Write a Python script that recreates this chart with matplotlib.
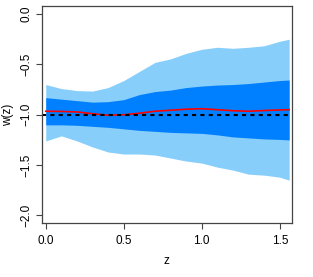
import matplotlib
matplotlib.use("Agg")
import matplotlib.pyplot as plt

# redshift grid and reconstructed w(z) bands
z = [0.0, 0.1, 0.2, 0.3, 0.4, 0.5, 0.6, 0.7, 0.8, 0.9, 1.0, 1.1, 1.2, 1.3, 1.4, 1.5, 1.56]
outer_hi = [-0.70, -0.74, -0.76, -0.765, -0.73, -0.66, -0.57, -0.48, -0.445, -0.39,
            -0.35, -0.33, -0.34, -0.33, -0.315, -0.27, -0.25]
outer_lo = [-1.26, -1.21, -1.26, -1.32, -1.37, -1.39, -1.39, -1.40, -1.43, -1.46,
            -1.48, -1.52, -1.55, -1.59, -1.60, -1.62, -1.65]
inner_hi = [-0.83, -0.845, -0.86, -0.875, -0.87, -0.85, -0.80, -0.77, -0.755, -0.73,
            -0.715, -0.705, -0.70, -0.69, -0.675, -0.66, -0.655]
inner_lo = [-1.10, -1.10, -1.105, -1.115, -1.125, -1.14, -1.155, -1.165, -1.175, -1.18,
            -1.185, -1.20, -1.22, -1.23, -1.24, -1.245, -1.25]
w_mean = [-0.965, -0.967, -0.972, -0.99, -1.005, -1.0, -0.985, -0.965, -0.955, -0.945,
          -0.94, -0.95, -0.96, -0.965, -0.958, -0.952, -0.95]
w_true = -1.0

xticks = [0.0, 0.5, 1.0, 1.5]
yticks = [0.0, -0.5, -1.0, -1.5, -2.0]

plt.rcParams["font.family"] = ["Liberation Sans", "DejaVu Sans"]

W, H = 313, 277
fig = plt.figure(figsize=(W / 100, H / 100), dpi=100)
ax = fig.add_axes([42 / W, 1 - 223 / H, (291.5 - 42) / W, (223 - 6) / H])

ax.fill_between(z, outer_lo, outer_hi, color="#87CEFA", lw=0)
ax.fill_between(z, inner_lo, inner_hi, color="#0080FF", lw=0)
ax.plot(z, w_mean, color="#FF0000", lw=1.2)
ax.axhline(w_true, color="black", lw=1.5, linestyle=(0, (2, 2)))

ax.set_xlim(-0.024, 1.575)
ax.set_ylim(-2.075, 0.08)
ax.set_xticks(xticks)
ax.set_xticklabels([f"{t:.1f}" for t in xticks])
ax.set_yticks(yticks)
ax.set_yticklabels([f"{t:.1f}".replace("-", "\u2212") for t in yticks],
                   rotation=90, va="center")
ax.tick_params(labelsize=8.5, length=4, width=0.8, color="#444444")
ax.tick_params(axis="x", pad=5)
ax.tick_params(axis="y", pad=3)
for s in ax.spines.values():
    s.set_color("#444444")
    s.set_linewidth(0.9)

fig.text(8 / W, 1 - 115 / H, "w(z)", rotation=90, ha="center", va="center", fontsize=8.5)
fig.text(166 / W, 1 - 261 / H, "z", ha="center", va="center", fontsize=8.5)

fig.savefig("out.png", dpi=100)
